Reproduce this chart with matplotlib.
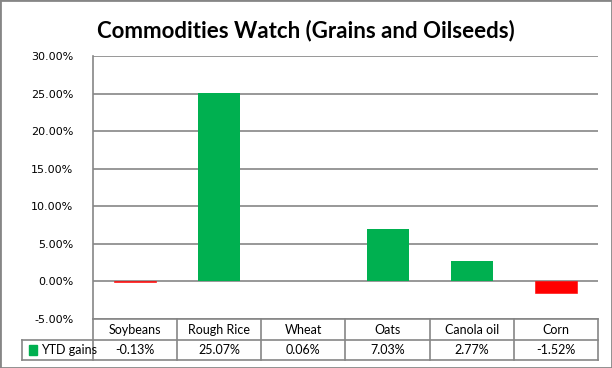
import matplotlib.pyplot as plt
import matplotlib.transforms as mtransforms
from matplotlib.patches import Rectangle

# Data
categories = ['Soybeans', 'Rough Rice', 'Wheat', 'Oats', 'Canola oil', 'Corn']
ytd_gains = [-0.13, 25.07, 0.06, 7.03, 2.77, -1.52]
series_name = 'YTD gains'
yticks = [-5, 0, 5, 10, 15, 20, 25, 30]

green = '#00B050'
red = '#FF0000'
grey = '#868686'

fig = plt.figure(figsize=(6.12, 3.68), dpi=100)
ax = fig.add_axes([93 / 612, 49 / 368, 505 / 612, 263 / 368])

colors = [green if v >= 0 else red for v in ytd_gains]
edge_w = [0.4 if v < 0 else 0 for v in ytd_gains]
x = list(range(len(categories)))
ax.bar(x, ytd_gains, width=0.5, color=colors, edgecolor=colors,
       linewidth=edge_w, zorder=3)

ax.set_xlim(-0.5, len(categories) - 0.5)
ax.set_ylim(-5, 30)
ax.set_yticks(yticks)
ax.set_yticklabels(['%.2f%%' % t for t in yticks], fontsize=8, family='DejaVu Sans')
ax.tick_params(axis='y', length=0, pad=14)
ax.set_xticks([])
ax.yaxis.grid(True, color=grey, linewidth=1.2, zorder=0)

for s in ['top', 'right', 'bottom']:
    ax.spines[s].set_visible(False)
ax.spines['left'].set_color(grey)
ax.spines['left'].set_linewidth(1.2)

# Data table under the plot (x in data units, y in axes units)
trans = mtransforms.blended_transform_factory(ax.transData, ax.transAxes)
row1 = -21 / 263
row2 = -41 / 263
left_lab = -0.5 - 71 / 84.2
n = len(categories)

line_kw = dict(color=grey, linewidth=1.2, transform=trans, clip_on=False)
ax.plot([-0.5, n - 0.5], [0, 0], **line_kw)
ax.plot([left_lab, n - 0.5], [row1, row1], **line_kw)
ax.plot([left_lab, n - 0.5], [row2, row2], **line_kw)
for i in range(n + 1):
    ax.plot([i - 0.5, i - 0.5], [0, row2], **line_kw)
ax.plot([left_lab, left_lab], [row1, row2], **line_kw)

for i, (c, v) in enumerate(zip(categories, ytd_gains)):
    ax.text(i, row1 / 2, c, transform=trans, ha='center', va='center',
            fontsize=9, family='Lato')
    ax.text(i, (row1 + row2) / 2, '%.2f%%' % v, transform=trans, ha='center',
            va='center', fontsize=9, family='Lato')

ax.add_patch(Rectangle((left_lab + 0.08, (row1 + row2) / 2 - 0.018), 0.1, 0.036,
                       transform=trans, color=green, clip_on=False))
ax.text(left_lab + 0.22, (row1 + row2) / 2, series_name, transform=trans,
        ha='left', va='center', fontsize=9, family='Lato')

fig.text(0.5, 1 - 31 / 368, 'Commodities Watch (Grains and Oilseeds)',
         ha='center', va='center', fontsize=16, fontweight='bold', family='Lato')

# Outer border
fig.patches.append(Rectangle((0, 0), 1, 1, transform=fig.transFigure,
                             fill=False, edgecolor=grey, linewidth=2))

fig.savefig('out.png', dpi=100)
